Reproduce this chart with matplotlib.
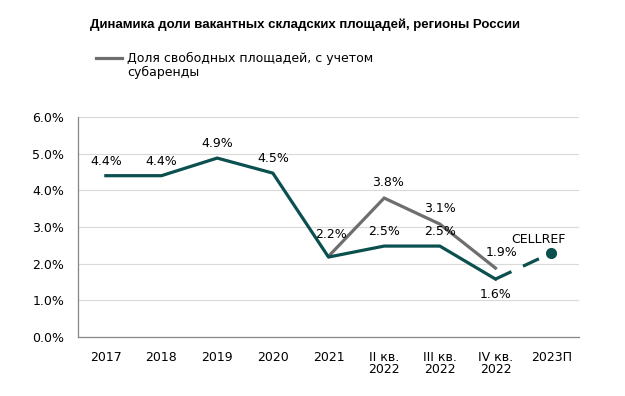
import matplotlib
matplotlib.use("Agg")
import matplotlib.pyplot as plt
import numpy as np

categories = ["2017", "2018", "2019", "2020", "2021", "II кв.\n2022", "III кв.\n2022", "IV кв.\n2022", "2023П"]
vacancy = [4.4, 4.4, 4.88, 4.47, 2.18, 2.48, 2.48, 1.58]
vacancy_labels = ["4.4%", "4.4%", "4.9%", "4.5%", "", "2.5%", "2.5%", "1.6%"]
forecast_value = 2.29
forecast_label = "CELLREF"
sublease = [2.2, 3.79, 3.08, 1.88]
sublease_labels = ["2.2%", "3.8%", "3.1%", "1.9%"]
sublease_start = 4
legend_line1 = "Доля свободных площадей, с учетом"
legend_line2 = "субаренды"
yticks = [0, 1, 2, 3, 4, 5, 6]

teal = "#0b4f4f"
grey = "#6e6e6e"

fig = plt.figure(figsize=(6.25, 3.96), dpi=100)
ax = fig.add_axes([0.1248, 0.149, 0.8016, 0.5555])

x = np.arange(len(categories))
xs = x[sublease_start:sublease_start + len(sublease)]
ax.plot(xs, sublease, color=grey, lw=2.3, solid_joinstyle="miter", zorder=3,
        label=legend_line1)
ax.plot(x[:len(vacancy)], vacancy, color=teal, lw=2.3, zorder=4)
ax.plot([x[len(vacancy) - 1], x[-1]], [vacancy[-1], forecast_value], color=teal, lw=2.3,
        dashes=(5.5, 4), zorder=4)
ax.plot([x[-1]], [forecast_value], "o", color=teal, ms=7, zorder=5)

fs = 9
for i, (v, lab) in enumerate(zip(vacancy, vacancy_labels)):
    if not lab:
        continue
    if i == len(vacancy) - 1:
        ax.annotate(lab, (x[i], v), xytext=(0, -11), textcoords="offset points",
                    ha="center", va="center", fontsize=fs)
    else:
        ax.annotate(lab, (x[i], v), xytext=(0, 10.5), textcoords="offset points",
                    ha="center", va="center", fontsize=fs)
sub_offsets = [(2, 16), (3, 11), (0, 11.5), (4, 11)]
for xi, v, lab, off in zip(xs, sublease, sublease_labels, sub_offsets):
    ax.annotate(lab, (xi, v), xytext=off, textcoords="offset points",
                ha="center", va="center", fontsize=fs)
ax.annotate(forecast_label, (x[-1], forecast_value), xytext=(-9, 10), textcoords="offset points",
            ha="center", va="center", fontsize=fs)

ax.set_xlim(-0.5, len(categories) - 0.5)
ax.set_ylim(0, 6)
ax.set_yticks(yticks)
ax.set_yticklabels([f"{t:.1f}%" for t in yticks], fontsize=fs)
ax.set_xticks(x)
ax.set_xticklabels(categories, fontsize=fs, linespacing=0.95)
ax.tick_params(axis="x", length=0, pad=10)
ax.tick_params(axis="y", length=0, pad=10)
ax.grid(axis="y", color="#d9d9d9", lw=0.8)
ax.set_axisbelow(True)
for s in ["top", "right"]:
    ax.spines[s].set_visible(False)
for s in ["left", "bottom"]:
    ax.spines[s].set_color("#868686")
    ax.spines[s].set_linewidth(0.9)

fig.text(0.488, 0.937, "Динамика доли вакантных складских площадей, регионы России",
         ha="center", va="center", fontsize=9.5, fontweight="bold", family="Liberation Sans")
ax.legend(loc="upper left", bbox_to_anchor=(0.1536, 0.868), bbox_transform=fig.transFigure,
          frameon=False, fontsize=fs, handlelength=2.1, handletextpad=0.4, borderaxespad=0,
          borderpad=0)
fig.text(127 / 625, 1 - 72 / 396, legend_line2, ha="left", va="center", fontsize=fs)

fig.savefig("out.png", dpi=100, facecolor="white")
